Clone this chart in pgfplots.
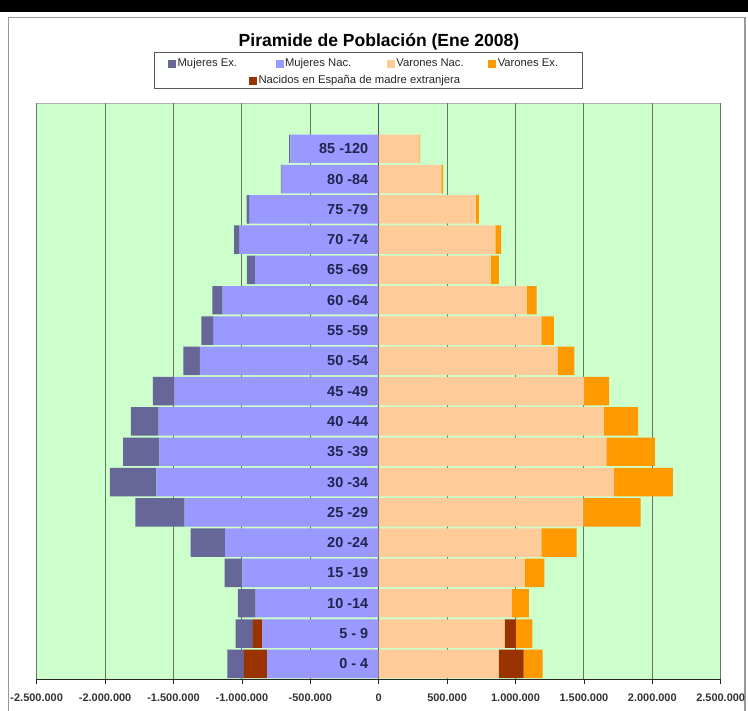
\documentclass[border=0pt]{standalone}
\usepackage{pgfplots}
\pgfplotsset{compat=1.18}
\usepackage{pgfplotstable}
\usepackage{fontspec}
\setmainfont{Liberation Sans}
\definecolor{mex}{HTML}{666699}
\definecolor{mnac}{HTML}{9999FF}
\definecolor{vnac}{HTML}{FFCC99}
\definecolor{vex}{HTML}{FF9900}
\definecolor{nacext}{HTML}{993300}
\definecolor{bggreen}{HTML}{CCFFCC}
\definecolor{gridc}{HTML}{667766}
\definecolor{labc}{HTML}{23234F}

\pgfplotstableread{
y mnac mnext mex vnac vnext vex
1 815000 171000 121000 876000 182500 139000
2 851000 69000 126000 920000 83000 121000
3 900000 0 129000 971000 0 127000
4 996000 0 131000 1066000 0 145000
5 1123000 0 251500 1190000 0 257000
6 1419000 0 360000 1497000 0 418000
7 1625000 0 340000 1720000 0 430000
8 1603000 0 265000 1664000 0 354000
9 1608000 0 204000 1645000 0 251000
10 1491000 0 159000 1500000 0 184000
11 1307000 0 120000 1310000 0 120000
12 1207000 0 90000 1190000 0 90000
13 1140000 0 76000 1084000 0 70000
14 903000 0 61000 819000 0 59000
15 1017000 0 39000 852000 0 42000
16 944000 0 22000 710000 0 22000
17 710000 0 6000 459000 0 12000
18 646000 0 8000 297000 0 5000
}\pop

\pgfplotsset{
  pyr/.style={
    at={(36.7bp,32bp)}, anchor=south west,
    scale only axis, width=684bp, height=575.7bp,
    xmin=-2500000, xmax=2500000, ymin=0.5, ymax=19.5,
    xbar stacked, bar width=0.94,
  },
}

\begin{document}
\begin{tikzpicture}
\path[use as bounding box] (0,0) rectangle (748bp,711bp);
\fill[white] (0,0) rectangle (748bp,711bp);
\fill[black] (0,699bp) rectangle (748bp,711bp);
\draw[gray!80, line width=1.2bp] (8.5bp,-10bp) -- (8.5bp,693.4bp) -- (745bp,693.4bp) -- (745bp,-10bp);

\begin{axis}[pyr,
  axis x line*=bottom, axis y line=none,
  x axis line style={black!85, line width=1bp},
  xtick={-2500000,-2000000,-1500000,-1000000,-500000,0,500000,1000000,1500000,2000000,2500000},
  xticklabels={-2.500.000,-2.000.000,-1.500.000,-1.000.000,-500.000,0,500.000,1.000.000,1.500.000,2.000.000,2.500.000},
  scaled x ticks=false,
  tick align=outside, major tick length=5bp,
  x tick style={black!85, line width=0.8bp},
  xticklabel style={font=\bfseries\fontsize{11}{13}\selectfont, text=black!80, yshift=-6bp},
  xmajorgrids, grid style={gridc, line width=1bp},
  axis background/.style={fill=bggreen, draw=gray!60, line width=0.8bp},
  legend columns=4,
  legend style={draw=none, fill=none, at={(0.192,1.0695)}, anchor=west,
    inner sep=0pt, font=\fontsize{11.3}{13}\selectfont, text=black!85},
]
\addlegendimage{legend image code/.code={\fill[mex] (0bp,-3.5bp) rectangle (7bp,3.5bp);}}
\addlegendentry{\makebox[96bp][l]{Mujeres Ex.}}
\addlegendimage{legend image code/.code={\fill[mnac] (0bp,-3.5bp) rectangle (7bp,3.5bp);}}
\addlegendentry{\makebox[100bp][l]{Mujeres Nac.}}
\addlegendimage{legend image code/.code={\fill[vnac] (0bp,-3.5bp) rectangle (7bp,3.5bp);}}
\addlegendentry{\makebox[90bp][l]{Varones Nac.}}
\addlegendimage{legend image code/.code={\fill[vex] (0bp,-3.5bp) rectangle (7bp,3.5bp);}}
\addlegendentry{Varones Ex.}
\addplot[fill=mnac, draw=none] table[x expr=-\thisrow{mnac}, y=y] {\pop};
\addplot[fill=nacext, draw=none] table[x expr=-\thisrow{mnext}, y=y] {\pop};
\addplot[fill=mex, draw=none] table[x expr=-\thisrow{mex}, y=y] {\pop};
\end{axis}

\begin{axis}[pyr,
  axis x line=none, axis y line*=center,
  xtick=\empty, scaled x ticks=false,
  y axis line style={draw=labc!80, line width=1bp},
  ytick={1,...,18},
  yticklabels={0 - 4,5 - 9,10 -14,15 -19,20 -24,25 -29,30 -34,35 -39,40 -44,45 -49,50 -54,55 -59,60 -64,65 -69,70 -74,75 -79,80 -84,85 -120},
  ytick style={draw=none}, major tick length=0pt,
  yticklabel style={font=\bfseries\fontsize{14.5}{16}\selectfont, text=labc, xshift=-7bp},
  legend style={draw=none, fill=none, at={(0.3104,1.0393)}, anchor=west,
    inner sep=0pt, font=\fontsize{11.3}{13}\selectfont, text=black!85},
]
\addlegendimage{legend image code/.code={\fill[nacext] (0bp,-3.5bp) rectangle (7bp,3.5bp);}}
\addlegendentry{Nacidos en España de madre extranjera}
\addplot[fill=vnac, draw=none] table[x=vnac, y=y] {\pop};
\addplot[fill=nacext, draw=none] table[x=vnext, y=y] {\pop};
\addplot[fill=vex, draw=none] table[x=vex, y=y] {\pop};
\end{axis}

\draw[black!65, line width=1bp] (154bp,622.5bp) rectangle (582bp,658.7bp);
\node[font=\bfseries\fontsize{17.6}{20}\selectfont] at (379bp,669.3bp) {Piramide de Población (Ene 2008)};
\end{tikzpicture}
\end{document}
